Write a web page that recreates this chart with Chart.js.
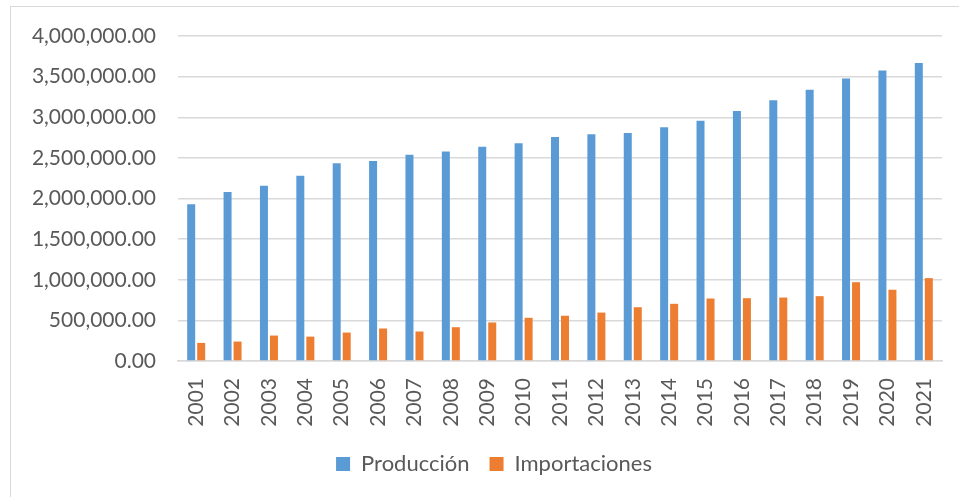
<!DOCTYPE html>
<html>
<head>
<meta charset="utf-8">
<script src="https://cdn.jsdelivr.net/npm/chart.js@4/dist/chart.umd.min.js"></script>
<style>
  html, body { margin: 0; padding: 0; background: #ffffff; }
  #wrap { position: relative; width: 959px; height: 497px; overflow: hidden; }
  #frame { position: absolute; left: 10px; top: 6px; width: 970px; height: 520px; border: 1px solid #d9d9d9; box-sizing: border-box; }
  #c { position: absolute; left: 0; top: 0; }
</style>
</head>
<body>
<div id="wrap">
  <div id="frame"></div>
  <canvas id="c" width="959" height="497"></canvas>
</div>
<script>
const categories = ['2001','2002','2003','2004','2005','2006','2007','2008','2009','2010','2011','2012','2013','2014','2015','2016','2017','2018','2019','2020','2021'];
const produccion = [1930000, 2080000, 2157000, 2280000, 2435000, 2463000, 2540000, 2578000, 2636000, 2680000, 2758000, 2790000, 2806000, 2876000, 2958000, 3078000, 3210000, 3337000, 3477000, 3575000, 3667000];
const importaciones = [223000, 239000, 313000, 300000, 350000, 400000, 363000, 416000, 474000, 532000, 557000, 596000, 662000, 704000, 769000, 773000, 781000, 798000, 970000, 877000, 1020000];
const seriesNames = ['Producción', 'Importaciones'];
const yTicks = { min: 0, max: 4000000, step: 500000 };

const FONT = 'Lato, "Liberation Sans", sans-serif';
const TXT = '#595959';
const GRID = '#d9d9d9';

const legendShift = {
  id: 'legendShift',
  afterLayout(chart) {
    if (chart.legend) { chart.legend.left += 23; chart.legend.right += 23; }
  }
};

new Chart(document.getElementById('c'), {
  type: 'bar',
  data: {
    labels: categories,
    datasets: [
      { label: seriesNames[0], data: produccion, backgroundColor: '#5B9BD5', categoryPercentage: 0.55, barPercentage: 0.8 },
      { label: seriesNames[1], data: importaciones, backgroundColor: '#ED7D31', categoryPercentage: 0.55, barPercentage: 0.8 }
    ]
  },
  plugins: [legendShift],
  options: {
    responsive: false,
    animation: false,
    layout: { padding: { top: 36, left: 0, right: 17, bottom: 12 } },
    plugins: {
      title: { display: false },
      tooltip: { enabled: false },
      legend: {
        position: 'bottom',
        labels: {
          font: { family: FONT, size: 22 },
          color: TXT,
          boxWidth: 14,
          boxHeight: 14,
          padding: 20
        }
      }
    },
    scales: {
      x: {
        grid: { display: false },
        border: { display: true, color: GRID, width: 1.5 },
        ticks: {
          font: { family: FONT, size: 21 },
          color: TXT,
          minRotation: 90,
          maxRotation: 90,
          padding: 9
        },
        afterFit: (s) => { s.height = 72; }
      },
      y: {
        min: yTicks.min,
        max: yTicks.max,
        grid: { color: GRID, lineWidth: 1.5, drawTicks: false },
        border: { display: false },
        ticks: {
          stepSize: yTicks.step,
          font: { family: FONT, size: 21 },
          color: TXT,
          padding: 22,
          callback: (v) => Number(v).toLocaleString('en-US', { minimumFractionDigits: 2, maximumFractionDigits: 2 })
        },
        afterFit: (s) => { s.width = 178; }
      }
    }
  }
});
</script>
</body>
</html>
